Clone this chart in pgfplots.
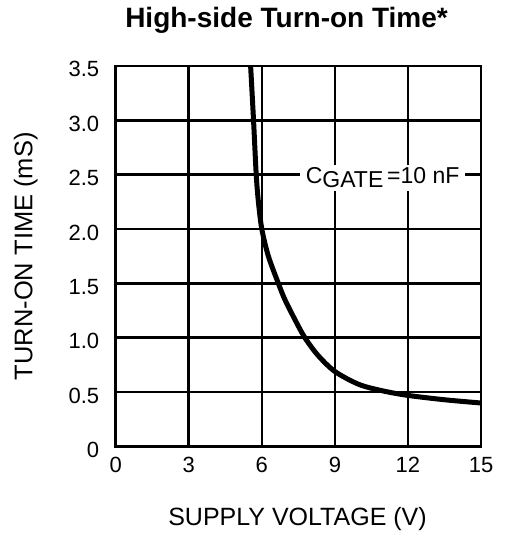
\documentclass[border=0pt]{standalone}
\usepackage{pgfplots}
\pgfplotsset{compat=1.18}
\usepackage{fontspec}
\setmainfont{Liberation Sans}
\usetikzlibrary{calc}
\begin{document}
\begin{tikzpicture}
\begin{axis}[
  scale only axis, width=365.3pt, height=380.5pt,
  xmin=0, xmax=15, ymin=0, ymax=3.5,
  xtick={0,3,6,9,12,15},
  ytick={0,0.5,1,1.5,2,2.5,3,3.5},
  yticklabels={0,0.5,1.0,1.5,2.0,2.5,3.0,3.5},
  grid=major,
  major grid style={black, line width=2.6pt},
  axis line style={line width=2.6pt},
  major tick length=0pt,
  /pgf/number format/assume math mode=true,
  tick label style={font=\fontsize{22}{26}\selectfont},
  xticklabel style={anchor=base, yshift=-26pt},
  yticklabel style={anchor=base east, xshift=-13pt, yshift=-11pt},
  every axis x label/.style={at={(axis description cs:0.4977,-0.2089)}, anchor=base, font=\fontsize{25}{29}\selectfont},
  every axis y label/.style={at={(axis description cs:-0.2283,0.5)}, rotate=90, anchor=base, font=\fontsize{25.5}{29}\selectfont},
  xlabel={SUPPLY VOLTAGE (V)},
  ylabel={TURN-ON TIME (mS)},
  title={High-side Turn-on Time*},
  title style={at={(axis description cs:0.4676,1.0860)}, anchor=base, font=\bfseries\fontsize{28}{32}\selectfont},
]
\addplot[black, line width=5pt, smooth] coordinates {
  (5.54,3.5) (5.66,3.0) (5.77,2.5) (5.86,2.25) (6.0,2.0) (6.27,1.75)
  (6.68,1.5) (6.95,1.35) (7.4,1.15) (7.77,1.0) (8.3,0.84) (9.0,0.69) (10.0,0.57)
  (11.0,0.51) (12.0,0.47) (13.5,0.43) (15.0,0.40)
};
\node[fill=white, inner xsep=6pt, inner ysep=3pt, font=\fontsize{23}{27}\selectfont] at (axis cs:10.96,2.47) {C\raisebox{-4pt}{GATE}\,=10 nF};
\end{axis}
\pgfresetboundingbox
\path[use as bounding box] ($(current axis.south west)+(-115.7pt,-88.5pt)$) rectangle ($(current axis.north east)+(24pt,66pt)$);
\end{tikzpicture}
\end{document}
